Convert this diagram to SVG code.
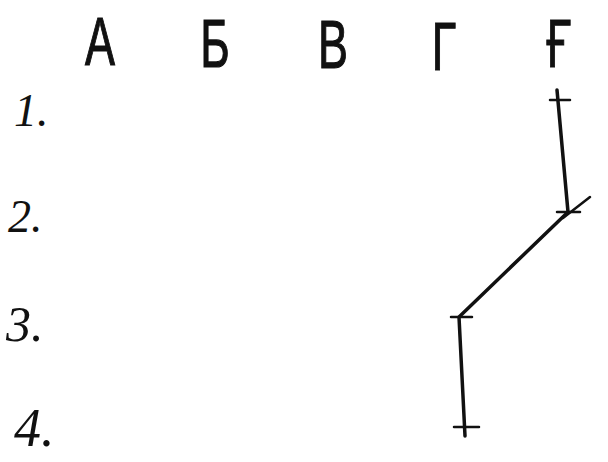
<svg xmlns="http://www.w3.org/2000/svg" width="608" height="462" viewBox="0 0 608 462">
<style>
.col{font-family:"Liberation Sans",Arial,sans-serif;font-size:68px;fill:#111;text-anchor:middle;stroke:#111;stroke-width:1.2}
.row{font-family:"Liberation Serif","Times New Roman",serif;font-style:italic;font-size:46px;fill:#111}
.ln{stroke:#111;stroke-width:3.5;fill:none;stroke-linecap:round;stroke-linejoin:round}
.tk{stroke:#111;stroke-width:2.5;fill:none;stroke-linecap:round}
</style>
<rect width="608" height="462" fill="#fff"/>
<g id="headers">
<g id="col-A"><text class="col" x="0" y="65" transform="translate(100 0) scale(0.66 1)">A</text></g>
<g id="col-B"><text class="col" x="0" y="67" transform="translate(215 0) scale(0.66 1)">Б</text></g>
<g id="col-V"><text class="col" x="0" y="68" transform="translate(333 0) scale(0.66 1)">В</text></g>
<g id="col-G"><text class="col" x="0" y="70" transform="translate(444 0) scale(0.66 1)">Г</text></g>
<g id="col-Gh"><text class="col" x="0" y="67" transform="translate(559 0) scale(0.66 1)">Ғ</text></g>
</g>
<g id="rows">
<g id="row-1"><text class="row" x="14" y="126">1.</text></g>
<g id="row-2"><text class="row" x="8" y="232">2.</text></g>
<g id="row-3"><text class="row" x="6" y="341" style="font-size:50px">3.</text></g>
<g id="row-4"><text class="row" x="14" y="446" style="font-size:54px">4.</text></g>
</g>
<g id="connectors">
<path class="ln" d="M557 90 L568 212 L459 317 L465 436"/>
</g>
<g id="p1"><line class="tk" x1="550" y1="100" x2="570" y2="100"/></g>
<g id="p2"><line class="tk" x1="557" y1="212" x2="580" y2="212"/><line class="tk" x1="563" y1="218" x2="590" y2="197"/></g>
<g id="p3"><line class="tk" x1="451" y1="317" x2="472" y2="317"/></g>
<g id="p4"><line class="tk" x1="454" y1="427" x2="479" y2="427"/></g>
</svg>
